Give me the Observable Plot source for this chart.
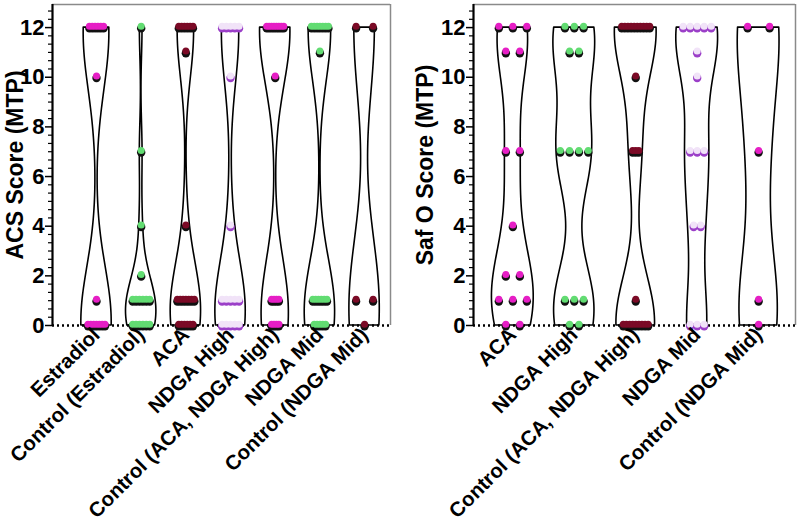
<!DOCTYPE html>
<html>
<head>
<meta charset="utf-8">
<script src="https://cdn.jsdelivr.net/npm/d3@7"></script>
<script src="https://cdn.jsdelivr.net/npm/@observablehq/plot@0.6"></script>
<style>
  html, body { margin: 0; padding: 0; background: #fff; }
  #wrap { display: flex; width: 800px; height: 525px; }
  #wrap svg { font-family: "Liberation Sans", Arial, sans-serif; }
</style>
</head>
<body>
<div id="wrap"></div>
<script>
// ---------- DATA ----------
const acsGroups = ["Estradiol", "Control (Estradiol)", "ACA", "NDGA High", "Control (ACA, NDGA High)", "NDGA Mid", "Control (NDGA Mid)"];
const acsScores = [
  [12,12,12,12,12,12,10,1,0,0,0,0,0,0,0],
  [12,7,4,2,1,1,1,1,1,1,0,0,0,0,0,0],
  [12,12,12,12,12,12,11,4,1,1,1,1,1,1,1,0,0,0,0,0,0],
  [12,12,12,12,12,10,4,1,1,1,1,1,0,0,0,0,0],
  [12,12,12,12,12,12,12,12,10,1,1,1,1,0,0,0,0],
  [12,12,12,12,12,12,12,11,1,1,1,1,1,1,0,0,0,0,0],
  [12,12,1,1,0]
];
const acsTop    = ["#e61ec5", "#62dc72", "#7b0a26", "#f1e3f8", "#e61ec5", "#62dc72", "#7b0a26"];
const acsBottom = ["#111111", "#111111", "#111111", "#9b3fc8", "#111111", "#111111", "#111111"];

const safGroups = ["ACA", "NDGA High", "Control (ACA, NDGA High)", "NDGA Mid", "Control (NDGA Mid)"];
const safScores = [
  [12,12,12,11,11,7,7,4,2,2,1,1,1,0,0],
  [12,12,12,11,11,7,7,7,7,1,1,1,0,0],
  [12,12,12,12,12,12,12,12,12,12,10,7,7,7,1,0,0,0,0,0,0,0,0,0],
  [12,12,12,12,12,11,10,7,7,7,4,4,0,0,0],
  [12,12,7,1,0]
];
const safTop    = ["#e61ec5", "#62dc72", "#7b0a26", "#f1e3f8", "#e61ec5"];
const safBottom = ["#111111", "#111111", "#111111", "#9b3fc8", "#111111"];

const yMajor = [0, 2, 4, 6, 8, 10, 12];

// ---------- HELPERS ----------
function bandwidth(v) {
  const n = v.length;
  const sd = d3.deviation(v);
  return Math.max(1.1, 0.63 * sd * Math.pow(n, -0.2));
}
function violinRows(scores, halfMax) {
  const rows = [];
  scores.forEach((v, g) => {
    const h = bandwidth(v);
    const lo = d3.min(v), hi = d3.max(v);
    const ys = d3.range(0, 241).map(i => lo + (hi - lo) * i / 240);
    const dens = ys.map(y => d3.sum(v, x => Math.exp(-((y - x) ** 2) / (2 * h * h))));
    const m = d3.max(dens);
    ys.forEach((y, i) => {
      const w = halfMax * dens[i] / m;
      rows.push({g, y, x1: g - w, x2: g + w});
    });
  });
  return rows;
}
function dotRows(scores, pxPerUnit, span, cap, topC, botC) {
  const rows = [];
  scores.forEach((v, g) => {
    const counts = d3.rollup(v, a => a.length, d => d);
    const maxN = d3.max(counts.values());
    const s = maxN > 1 ? Math.min(cap, span / (maxN - 1)) : 0;
    for (const [val, n] of counts) {
      for (let i = 0; i < n; i++) {
        const off = (i - (n - 1) / 2) * s / pxPerUnit;
        rows.push({g, y: val, x: g + off, top: topC[g], bot: botC[g]});
      }
    }
  });
  return rows;
}

function panel({groups, scores, topC, botC, title, xDomain, width, mL, mR, span, cap, titleDx}) {
  const yDomain = [0, 12.93];
  const pxPerUnit = (width - mL - mR) / (xDomain[1] - xDomain[0]);
  const vio = violinRows(scores, 0.34);
  const dots = dotRows(scores, pxPerUnit, span, cap, topC, botC);
  const minor = d3.range(0, 39).map(i => i / 3).filter(t => Math.abs(t / 2 - Math.round(t / 2)) > 1e-6 && t <= 12.7);
  return Plot.plot({
    width, height: 525,
    marginLeft: mL, marginRight: mR, marginTop: 4, marginBottom: 200,
    x: {domain: xDomain, axis: null},
    y: {domain: yDomain, axis: null},
    style: {fontFamily: "'Liberation Sans', Arial, sans-serif", color: "#000", background: "#fff", overflow: "visible"},
    marks: [
      Plot.ruleY([yDomain[1]], {stroke: "#8a8a8a", strokeWidth: 1.5}),
      Plot.ruleX([xDomain[1]], {stroke: "#8a8a8a", strokeWidth: 1.5}),
      Plot.areaX(vio, {y: "y", x1: "x1", x2: "x2", z: "g", fill: "white", stroke: "black", strokeWidth: 1.6}),
      Plot.ruleY([0], {stroke: "#000", strokeWidth: 2.5, strokeDasharray: "2,3"}),
      Plot.dot(dots, {x: "x", y: "y", r: 4.2, dy: 0.8, fill: "bot", stroke: null}),
      Plot.dot(dots, {x: "x", y: "y", r: 3.5, dy: -1.3, fill: "top", stroke: null}),
      Plot.ruleX([xDomain[0]], {stroke: "#000", strokeWidth: 2.2}),
      Plot.axisY({ticks: yMajor, tickSize: 7, tickPadding: 1, fontSize: 22, fontWeight: "bold", label: null, strokeWidth: 1.5}),
      Plot.axisY({ticks: minor, tickSize: 4, tickFormat: () => "", label: null, strokeWidth: 1.2}),
      Plot.axisX({ticks: d3.range(groups.length), tickFormat: i => groups[i], tickRotate: -45, tickSize: 0, tickPadding: 6, fontSize: 20.5, fontWeight: "bold", label: null}),
      Plot.text([title], {frameAnchor: "left", textAnchor: "middle", dx: titleDx, rotate: -90, fontSize: 23, fontWeight: "bold", text: d => d})
    ]
  });
}

const wrap = document.getElementById("wrap");
wrap.appendChild(panel({
  groups: acsGroups, scores: acsScores, topC: acsTop, botC: acsBottom,
  title: "ACS Score (MTP)", xDomain: [-0.985, 6.58], width: 400, mL: 52, mR: 10,
  span: 17, cap: 17, titleDx: -37
}));
wrap.appendChild(panel({
  groups: safGroups, scores: safScores, topC: safTop, botC: safBottom,
  title: "Saf O Score (MTP)", xDomain: [-0.64, 4.6], width: 400, mL: 73, mR: 5,
  span: 28, cap: 22, titleDx: -48
}));
</script>
</body>
</html>
